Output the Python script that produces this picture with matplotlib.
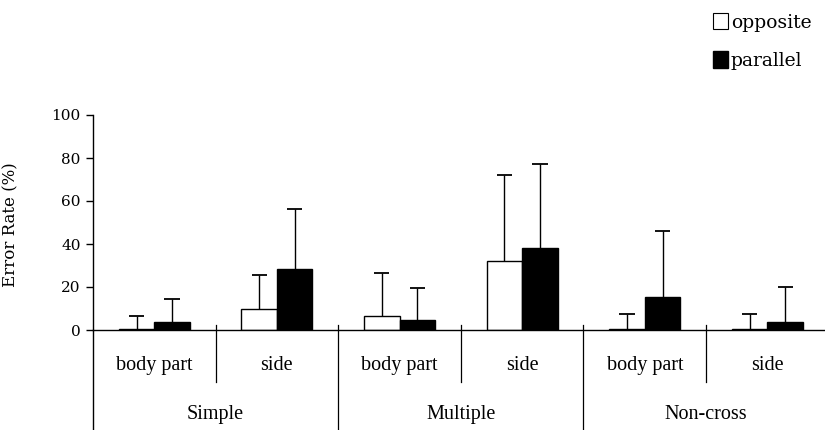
import numpy as np
import matplotlib.pyplot as plt
from matplotlib.patches import Patch

groups = ['Simple', 'Multiple', 'Non-cross']
conditions = ['body part', 'side', 'body part', 'side', 'body part', 'side']
opposite = [0.6, 9.6, 6.5, 32.3, 0.6, 0.4]
opposite_err = [6.0, 16.1, 19.9, 39.8, 6.8, 6.9]
parallel = [3.9, 28.4, 4.5, 38.3, 15.2, 3.6]
parallel_err = [10.5, 27.9, 14.9, 39.1, 30.7, 16.5]

serif = ['DejaVu Serif']
times = ['Liberation Serif']

fig = plt.figure(figsize=(8.25, 4.3), dpi=100)
ax = fig.add_axes([93 / 825, 1 - 330 / 430, 1 - 93 / 825, 215 / 430])

x = np.arange(len(conditions)) + 0.5
w = 0.29
cap = 0.062
ax.bar(x - w / 2, opposite, w, color='white', edgecolor='black', linewidth=1.0, zorder=2)
ax.bar(x + w / 2, parallel, w, color='black', edgecolor='black', linewidth=1.0, zorder=2)

# one-sided (upper) error bars
for xs, v, e in [(x - w / 2, opposite, opposite_err), (x + w / 2, parallel, parallel_err)]:
    top = np.array(v) + np.array(e)
    ax.vlines(xs, v, top, color='black', lw=1.0, zorder=1)
    ax.hlines(top, xs - cap, xs + cap, color='black', lw=1.3, zorder=1)

ax.set_xlim(0, 5.97)
ax.set_ylim(0, 100)
ax.set_yticks([0, 20, 40, 60, 80, 100])
ax.tick_params(axis='y', direction='out', length=5, width=1, pad=4, labelsize=11)
for lab in ax.get_yticklabels():
    lab.set_family(serif)
ax.set_xticks([])
ax.spines['top'].set_visible(False)
ax.spines['right'].set_visible(False)
ax.spines['left'].set_linewidth(1)
ax.spines['bottom'].set_linewidth(1)

ax.set_ylabel('Error Rate (%)', fontsize=12, family=serif)
ax.yaxis.set_label_coords(-0.1, 0.49)

# category table below the axis
ax.plot([0, 0], [0, -47], color='black', lw=1, clip_on=False)
for b in [1, 3, 5]:
    ax.plot([b, b], [2.3, -24.2], color='black', lw=0.9, clip_on=False)
for b in [2, 4]:
    ax.plot([b, b], [2.3, -47], color='black', lw=0.9, clip_on=False)
for xi, c in zip(x, conditions):
    ax.text(xi, -16.3, c, ha='center', va='center', fontsize=14.5, family=times)
for i, g in enumerate(groups):
    ax.text(2 * i + 1, -39.5, g, ha='center', va='center', fontsize=14.5, family=times)

handles = [Patch(facecolor='white', edgecolor='black', linewidth=0.8),
           Patch(facecolor='black', edgecolor='black')]
fig.legend(handles, ['opposite', 'parallel'], loc='upper left',
           bbox_to_anchor=(700 / 825, 1 - 0 / 430), frameon=False,
           prop={'family': serif, 'size': 13.5}, handlelength=0.8, handleheight=0.95,
           handletextpad=0.15, labelspacing=1.05, borderpad=0.2)

fig.savefig('out.png', dpi=100)
